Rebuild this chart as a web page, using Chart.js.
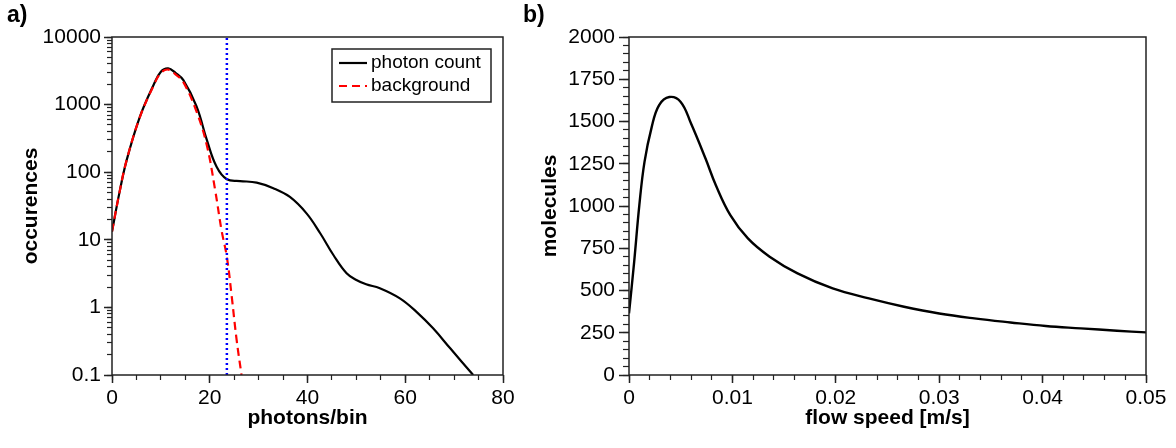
<!DOCTYPE html>
<html><head><meta charset="utf-8">
<script src="https://cdn.jsdelivr.net/npm/chart.js@4/dist/chart.umd.min.js"></script>
<style>
html,body{margin:0;padding:0;background:#fff;}
#wrap{position:relative;width:1176px;height:448px;overflow:hidden;background:#fff;}
#c1{position:absolute;left:0;top:0;}
#c2{position:absolute;left:520px;top:0;}
</style></head><body>
<div id="wrap"><canvas id="c1" width="520" height="448"></canvas><canvas id="c2" width="656" height="448"></canvas></div>
<script>
// ---- Panel a) data ----
const photonX = [0, 1.5, 3, 5.7, 8.5, 10, 11.5, 13, 14.6, 17.3, 19.4, 21.4, 23.5, 26.2, 29.6, 33, 36.4, 39.8, 42.6, 45.3, 48, 50, 52, 54.8, 58.9, 62.3, 65.7, 69.2, 73.9];
const photonCount = [13.2, 49, 151, 660, 1950, 3070, 3440, 2950, 2300, 940, 300, 120, 78.5, 74, 70, 58, 43, 24.6, 12.5, 5.96, 3.2, 2.55, 2.2, 1.92, 1.36, 0.86, 0.49, 0.248, 0.1];
const backgroundX = [0, 1.5, 3, 5.7, 8.5, 10, 11.5, 13, 14.6, 17.3, 19.4, 21.1, 22.4, 23.5, 24.5, 25.5, 26.5];
const backgroundCount = [13.2, 49, 151, 650, 1900, 2950, 3300, 2800, 2150, 785, 251, 54.6, 14, 5.6, 1.44, 0.33, 0.1];
const thresholdX = 23.5;
const leftXTicks = [0, 20, 40, 60, 80];
const leftXTickLabels = ['0', '20', '40', '60', '80'];
const leftYTicks = [0.1, 1, 10, 100, 1000, 10000];
const leftYTickLabels = ['0.1', '1', '10', '100', '1000', '10000'];

// ---- Panel b) data ----
const flowSpeed = [0, 0.0005, 0.001, 0.0015, 0.0022, 0.0029, 0.0039, 0.005, 0.006, 0.0074, 0.0084, 0.0098, 0.0115, 0.0136, 0.0163, 0.0197, 0.0232, 0.0266, 0.03, 0.0334, 0.0369, 0.0403, 0.0437, 0.0472, 0.05];
const molecules = [365, 670, 1005, 1261, 1468, 1596, 1645, 1616, 1488, 1281, 1123, 946, 808, 700, 601, 512, 453, 404, 364, 335, 311, 290, 276, 262, 252];
const rightXTicks = [0, 0.01, 0.02, 0.03, 0.04, 0.05];
const rightXTickLabels = ['0', '0.01', '0.02', '0.03', '0.04', '0.05'];
const rightYTicks = [0, 250, 500, 750, 1000, 1250, 1500, 1750, 2000];
const rightYTickLabels = ['0', '250', '500', '750', '1000', '1250', '1500', '1750', '2000'];

// log minor tick positions (axis decoration)
const leftYMinorTicks = [];
[0.1, 1, 10, 100, 1000].forEach(d => { for (let k = 1; k <= 9; k++) leftYMinorTicks.push(+(k * d).toPrecision(3)); });
leftYMinorTicks.push(10000);

const FONT = "'Liberation Sans', Arial, Helvetica, sans-serif";
Chart.defaults.font.family = FONT;
Chart.defaults.color = '#000';

const AX = '#222';
function fixSize(size) {
  return function (scale) {
    if (scale.isHorizontal()) scale.height = size; else scale.width = size;
    scale.paddingTop = 0; scale.paddingBottom = 0; scale.paddingLeft = 0; scale.paddingRight = 0;
  };
}
function setTicks(values) {
  return function (scale) { scale.ticks = values.map(v => ({ value: v })); };
}

const framePlugin = {
  id: 'frame',
  afterDraw(chart) {
    const { ctx, chartArea: a } = chart;
    ctx.save();
    ctx.strokeStyle = AX; ctx.lineWidth = 1.5;
    ctx.strokeRect(a.left, a.top, a.right - a.left, a.bottom - a.top);
    ctx.restore();
  }
};

const insideLegend = {
  id: 'insideLegend',
  afterDatasetsDraw(chart, args, opts) {
    if (!opts || !opts.display) return;
    const { ctx, chartArea } = chart;
    const items = chart.data.datasets.filter(d => d.showInLegend);
    const x = chartArea.right - opts.right - opts.width, y = chartArea.top + opts.top;
    ctx.save();
    ctx.fillStyle = '#fff'; ctx.fillRect(x, y, opts.width, opts.height);
    ctx.strokeStyle = AX; ctx.lineWidth = 1.5; ctx.strokeRect(x, y, opts.width, opts.height);
    ctx.font = '19px ' + FONT; ctx.textBaseline = 'middle'; ctx.textAlign = 'left';
    items.forEach((d, i) => {
      const cy = y + opts.rowStart + i * opts.rowGap;
      ctx.beginPath();
      ctx.setLineDash(d.borderDash || []);
      ctx.strokeStyle = d.borderColor; ctx.lineWidth = d.borderWidth;
      ctx.moveTo(x + 7, cy); ctx.lineTo(x + 35, cy); ctx.stroke();
      ctx.setLineDash([]);
      ctx.fillStyle = '#000';
      ctx.fillText(d.label, x + 39, cy);
    });
    ctx.restore();
  }
};

function majorAxis(type, pos, min, max, ticks, labels, tl, pad, size, title, titlePad) {
  return {
    type, position: pos, weight: 1, min, max,
    afterBuildTicks: setTicks(ticks),
    ticks: { autoSkip: false, padding: pad, maxRotation: 0, minRotation: 0, color: '#000', font: { size: 21 },
      callback: (v, i) => labels[i] },
    grid: { drawOnChartArea: false, drawTicks: true, tickLength: tl, tickColor: AX, tickWidth: 1.5 },
    border: { display: false },
    title: { display: true, text: title, color: '#000', font: { size: 21, weight: 'bold' }, padding: titlePad },
    afterFit: fixSize(size)
  };
}
function minorAxis(type, pos, min, max, opts, tl) {
  const ax = {
    type, position: pos, weight: 0, min, max,
    ticks: Object.assign({ display: false, autoSkip: false }, opts.step ? { stepSize: opts.step } : {}),
    grid: { drawOnChartArea: false, drawTicks: true, tickLength: tl, tickColor: AX, tickWidth: 1.2 },
    border: { display: false },
    afterFit: fixSize(0)
  };
  if (opts.list) ax.afterBuildTicks = setTicks(opts.list);
  return ax;
}

// ---- Chart a) ----
new Chart(document.getElementById('c1'), {
  type: 'line',
  data: {
    datasets: [
      { label: 'photon count', data: photonX.map((x, i) => ({ x, y: photonCount[i] })),
        borderColor: '#000000', borderWidth: 2.2, pointRadius: 0, tension: 0.4,
        showInLegend: true, clip: 0, order: 2, fill: false },
      { label: 'background', data: backgroundX.map((x, i) => ({ x, y: backgroundCount[i] })),
        borderColor: '#ff0000', borderWidth: 2.2, borderDash: [8, 5], pointRadius: 0, tension: 0.4,
        showInLegend: true, clip: 0, order: 1, fill: false },
      { label: 'threshold', data: [{ x: thresholdX, y: leftYTicks[0] }, { x: thresholdX, y: leftYTicks[leftYTicks.length - 1] }],
        borderColor: '#0000ff', borderWidth: 2.5, borderDash: [2, 3], pointRadius: 0, tension: 0,
        clip: 0, order: 0, fill: false }
    ]
  },
  options: {
    responsive: false, animation: false, devicePixelRatio: 1,
    layout: { padding: { left: 7, right: 17, top: 0, bottom: 0 } },
    scales: {
      x: majorAxis('linear', 'bottom', 0, 80, leftXTicks, leftXTickLabels, 8, 3, 73, 'photons/bin', { top: 0, bottom: 17 }),
      xMinor: minorAxis('linear', 'bottom', 0, 80, { step: 5 }, 5),
      y: majorAxis('logarithmic', 'left', 0.1, 10000, leftYTicks, leftYTickLabels, 8, 3, 105, 'occurences', { top: 12, bottom: 0 }),
      yMinor: minorAxis('logarithmic', 'left', 0.1, 10000, { list: leftYMinorTicks }, 5)
    },
    plugins: {
      legend: { display: false }, tooltip: { enabled: false },
      title: { display: true, text: 'a)', align: 'start', color: '#000', font: { size: 23, weight: 'bold', lineHeight: 1.2 }, padding: { top: 2, bottom: 7.4 } },
      insideLegend: { display: true, right: 12, top: 12, width: 159, height: 53, rowStart: 14, rowGap: 23 }
    }
  },
  plugins: [framePlugin, insideLegend]
});

// ---- Chart b) ----
new Chart(document.getElementById('c2'), {
  type: 'line',
  data: {
    datasets: [
      { label: 'molecules', data: flowSpeed.map((x, i) => ({ x, y: molecules[i] })),
        borderColor: '#000000', borderWidth: 2.4, pointRadius: 0, tension: 0.4, clip: 0, fill: false }
    ]
  },
  options: {
    responsive: false, animation: false, devicePixelRatio: 1,
    layout: { padding: { left: 3, right: 30, top: 0, bottom: 0 } },
    scales: {
      x: majorAxis('linear', 'bottom', 0, 0.05, rightXTicks, rightXTickLabels, 8, 3, 73, 'flow speed [m/s]', { top: 0, bottom: 17 }),
      xMinor: minorAxis('linear', 'bottom', 0, 0.05, { step: 0.002 }, 5),
      y: majorAxis('linear', 'left', 0, 2000, rightYTicks, rightYTickLabels, 10, 4, 106, 'molecules', { top: 15, bottom: 0 }),
      yMinor: minorAxis('linear', 'left', 0, 2000, { step: 50 }, 6)
    },
    plugins: {
      legend: { display: false }, tooltip: { enabled: false },
      title: { display: true, text: 'b)', align: 'start', color: '#000', font: { size: 23, weight: 'bold', lineHeight: 1.2 }, padding: { top: 2, bottom: 7.4 } },
      insideLegend: { display: false }
    }
  },
  plugins: [framePlugin, insideLegend]
});
</script>
</body></html>
